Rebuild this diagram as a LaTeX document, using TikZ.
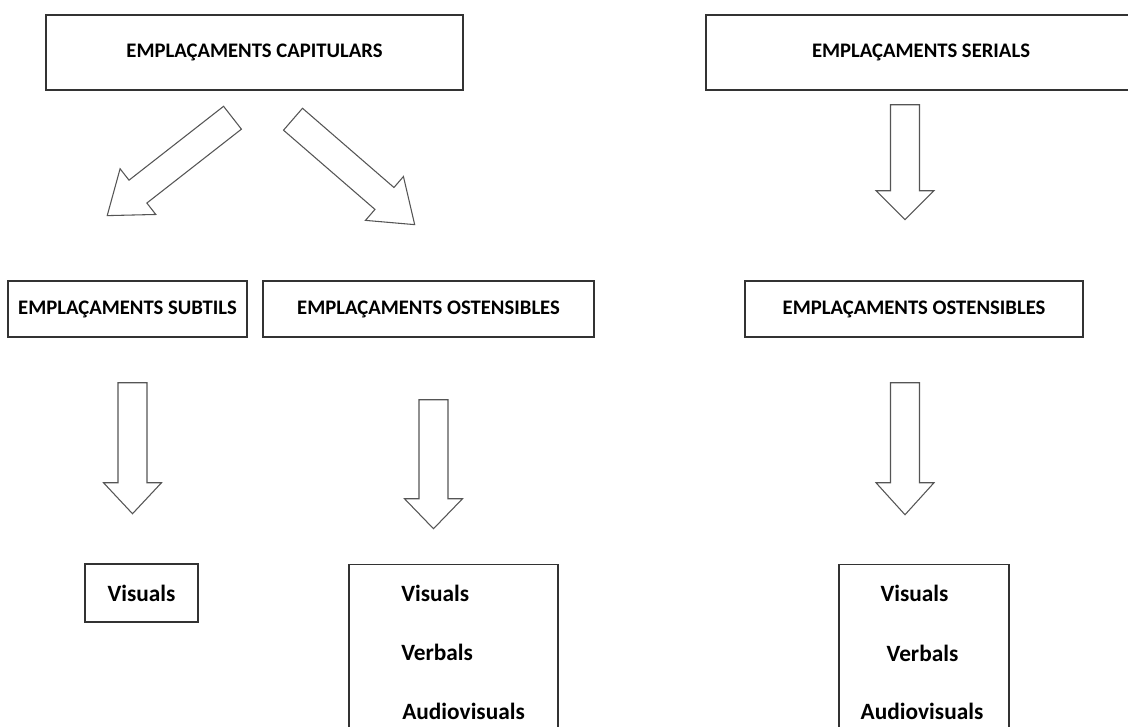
\documentclass[tikz,border=0pt]{standalone}
\usepackage{fontspec}
\setmainfont{Carlito}
\usetikzlibrary{positioning}
\newcommand{\px}{0.75pt}
\definecolor{boxline}{HTML}{333333}
\definecolor{arrowline}{HTML}{555555}
\tikzset{
  box/.style={draw=boxline, line width=1.1pt, inner sep=0pt,
    font=\bfseries\fontsize{15.5}{18}\selectfont},
  item/.style={inner sep=0pt, font=\bfseries\fontsize{17.5}{20}\selectfont},
  pics/blockarrow/.style args={#1/#2}{code={
    \draw[draw=arrowline, line width=0.8pt, fill=white, line join=miter]
      (0,-14.5) -- (#1-#2,-14.5) -- (#1-#2,-29) -- (#1,0)
      -- (#1-#2,29) -- (#1-#2,14.5) -- (0,14.5) -- cycle;
  }}
}
\begin{document}
\begin{tikzpicture}[x=\px,y=-\px]
  \useasboundingbox (0,0) rectangle (1128,727);
  \clip (0,0) rectangle (1128,727);
  % top row
  \node[box, minimum width=417*\px, minimum height=75*\px] (capitulars) at (254.5,52.5) {EMPLAÇAMENTS CAPITULARS};
  \node[box, minimum width=430*\px, minimum height=75*\px] (serials) at (921,52.5) {EMPLAÇAMENTS SERIALS};
  % middle row
  \node[box, minimum width=239*\px, minimum height=56*\px] (subtils) at (127.5,309) {EMPLAÇAMENTS SUBTILS};
  \node[box, minimum width=331*\px, minimum height=56*\px] (ostensA) at (428.5,309) {EMPLAÇAMENTS OSTENSIBLES};
  \node[box, minimum width=338*\px, minimum height=56*\px] (ostensB) at (914,309) {EMPLAÇAMENTS OSTENSIBLES};
  % bottom row
  \node[box, item, minimum width=113*\px, minimum height=58*\px] (visualsA) at (141.5,593) {Visuals};
  \node[box, minimum width=209*\px, minimum height=200*\px, anchor=north] (listA) at (453.5,564) {};
  \node[box, minimum width=170*\px, minimum height=200*\px, anchor=north] (listB) at (924,564) {};
  \node[item, anchor=west] (visualsB) at (401,593) {Visuals};
  \node[item, anchor=west] (verbalsB) at (401,652) {Verbals};
  \node[item, anchor=west] (audioB) at (402,711) {Audiovisuals};
  \node[item] (visualsC) at (914.5,593) {Visuals};
  \node[item] (verbalsC) at (922.5,653) {Verbals};
  \node[item] (audioC) at (922,711) {Audiovisuals};
  % block arrows
  \pic[rotate=218] at ([xshift=-22*\px, yshift=-27*\px]capitulars.south) {blockarrow={159/39}};
  \pic[rotate=-40.9] at ([xshift=38.5*\px, yshift=-28.5*\px]capitulars.south) {blockarrow={161/40}};
  \pic[rotate=-90] at ([xshift=-16*\px, yshift=-14*\px]serials.south) {blockarrow={115/29}};
  \pic[rotate=-90] at ([xshift=5*\px, yshift=-45*\px]subtils.south) {blockarrow={131/31}};
  \pic[rotate=-90] at ([xshift=5*\px, yshift=-62*\px]ostensA.south) {blockarrow={129/30}};
  \pic[rotate=-90] at ([xshift=-9*\px, yshift=-45*\px]ostensB.south) {blockarrow={132/32}};
\end{tikzpicture}
\end{document}
